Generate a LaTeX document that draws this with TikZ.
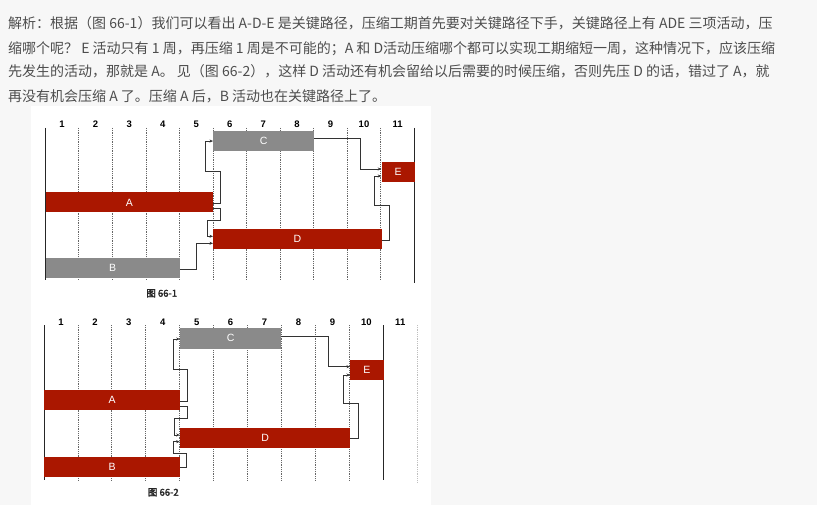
\documentclass[tikz,border=0pt]{standalone}
\usepackage{fontspec}
\setmainfont{Liberation Sans}
\newfontfamily\cjk{Noto Sans CJK SC}
\newfontfamily\cjkb[FakeBold=2]{Noto Sans CJK SC}
\usetikzlibrary{arrows.meta}
\definecolor{txt}{HTML}{4D4D4D}
\definecolor{barred}{HTML}{AA1700}
\definecolor{bargray}{HTML}{8A8A8A}
\definecolor{pagebg}{HTML}{F7F7F7}
\definecolor{conn}{HTML}{333333}
\begin{document}
\begin{tikzpicture}[x=1pt,y=-1pt,
 para/.style={anchor=base west, inner sep=0pt, text=txt, font=\cjk\fontsize{14}{14}\selectfont},
 bar/.style={anchor=north west, inner sep=0pt, text=white, font=\fontsize{10.5}{10.5}\selectfont},
 redbar/.style={bar, fill=barred},
 graybar/.style={bar, fill=bargray},
 collabel/.style={anchor=base, font=\bfseries\fontsize{9.5}{9.5}\selectfont, inner sep=0pt},
 caption/.style={font=\cjkb\fontsize{9.5}{9.5}\selectfont, inner sep=0pt, text=black!85},
 link/.style={draw=conn, line width=0.8pt, -{Stealth[length=3.5pt,width=3pt]}},
 gridline/.style={draw=black!60, densely dotted, line width=0.8pt},
 axisline/.style={draw=black!85, line width=1pt}]
\useasboundingbox (0,0) rectangle (817,505);
\fill[pagebg] (0,0) rectangle (817,505);
\fill[white] (31,106.5) rectangle (431,505);

% paragraph
\node[para] (p1) at (8,28.5) {解析：根据（图 66-1）我们可以看出 A-D-E 是关键路径，压缩工期首先要对关键路径下手，关键路径上有 ADE 三项活动，压};
\node[para] (p2) at (8,53.2) {缩哪个呢？ E 活动只有 1 周，再压缩 1 周是不可能的；A 和 D活动压缩哪个都可以实现工期缩短一周，这种情况下，应该压缩};
\node[para] (p3) at (8,76.9) {先发生的活动，那就是 A。 见（图 66-2），这样 D 活动还有机会留给以后需要的时候压缩，否则先压 D 的话，错过了 A，就};
\node[para] (p4) at (8,101.1) {再没有机会压缩 A 了。压缩 A 后，B 活动也在关键路径上了。};

% ---------- figure 66-1 ----------
\foreach \k in {1,...,10} {\draw[gridline] ({45.3+33.55*\k},128) -- ({45.3+33.55*\k},280);}
\draw[axisline] (45.3,128) -- (45.3,280);
\draw[axisline] (414.3,128) -- (414.3,283);
\foreach \i in {1,...,11} {\node[collabel] (h1\i) at ({45.3+33.55*(\i-0.5)},127.4) {\i};}

\node[graybar, minimum width=101pt, minimum height=20.3pt] (C1) at (213,130.7) {C};
\node[redbar, minimum width=33pt, minimum height=20.6pt] (E1) at (381.3,161.7) {E};
\node[redbar, minimum width=167.7pt, minimum height=20pt] (A1) at (45.3,192.3) {A};
\node[redbar, minimum width=168.3pt, minimum height=20.3pt] (D1) at (213,229) {D};
\node[graybar, minimum width=134.2pt, minimum height=20.6pt] (B1) at (45.3,257.7) {B};

\draw[link] (A1.east |- 0,203.7) -- (220.3,203.7) -- (220.3,171) -- (205.7,171) |- (C1.west);
\draw[link] (A1.east |- 0,208.3) -- (220.3,208.3) -- (220.3,220) -- (207.7,220) |- (D1.west |- 0,236.3);
\draw[link] (B1.east |- 0,269) -- (196.7,269) |- (D1.west |- 0,243.3);
\draw[link] (C1.east |- 0,138.3) -- (360,138.3) |- (E1.west |- 0,169);
\draw[link] (D1.east |- 0,240) -- (389,240) -- (389,205) -- (374.3,205) |- (E1.west |- 0,176);

\node[caption] (cap1) at (161.7,293.3) {图 66-1};

% ---------- figure 66-2 ----------
\foreach \k in {1,...,9} {\draw[gridline] ({44+33.93*\k},325) -- ({44+33.93*\k},480);}
\draw[gridline, draw=black!25] (417.2,325) -- (417.2,482);
\draw[axisline] (44,325) -- (44,480);
\draw[axisline] (383.3,325) -- (383.3,480);
\foreach \i in {1,...,11} {\node[collabel] (h2\i) at ({44+33.93*(\i-0.5)},325.1) {\i};}

\node[graybar, minimum width=101.3pt, minimum height=20.6pt] (C2) at (179.7,327.7) {C};
\node[redbar, minimum width=33.3pt, minimum height=20.7pt] (E2) at (350,359.3) {E};
\node[redbar, minimum width=135.7pt, minimum height=20.7pt] (A2) at (44,389.3) {A};
\node[redbar, minimum width=170.3pt, minimum height=20.4pt] (D2) at (179.7,427.3) {D};
\node[redbar, minimum width=135.7pt, minimum height=20pt] (B2) at (44,456.7) {B};

\draw[link] (A2.east |- 0,401) -- (187.3,401) -- (187.3,369) -- (173.3,369) |- (C2.west |- 0,339);
\draw[link] (A2.east |- 0,406) -- (187.3,406) -- (187.3,418.3) -- (174,418.3) |- (D2.west |- 0,435);
\draw[link] (B2.east |- 0,467.7) -- (186,467.7) -- (186,453.3) -- (173.3,453.3) |- (D2.west |- 0,441.7);
\draw[link] (C2.east |- 0,336.7) -- (328.3,336.7) |- (E2.west |- 0,366.7);
\draw[link] (D2.east |- 0,438.3) -- (358.3,438.3) -- (358.3,403.3) -- (343.3,403.3) |- (E2.west |- 0,375);

\node[caption] (cap2) at (163.3,492.3) {图 66-2};
\end{tikzpicture}
\end{document}
